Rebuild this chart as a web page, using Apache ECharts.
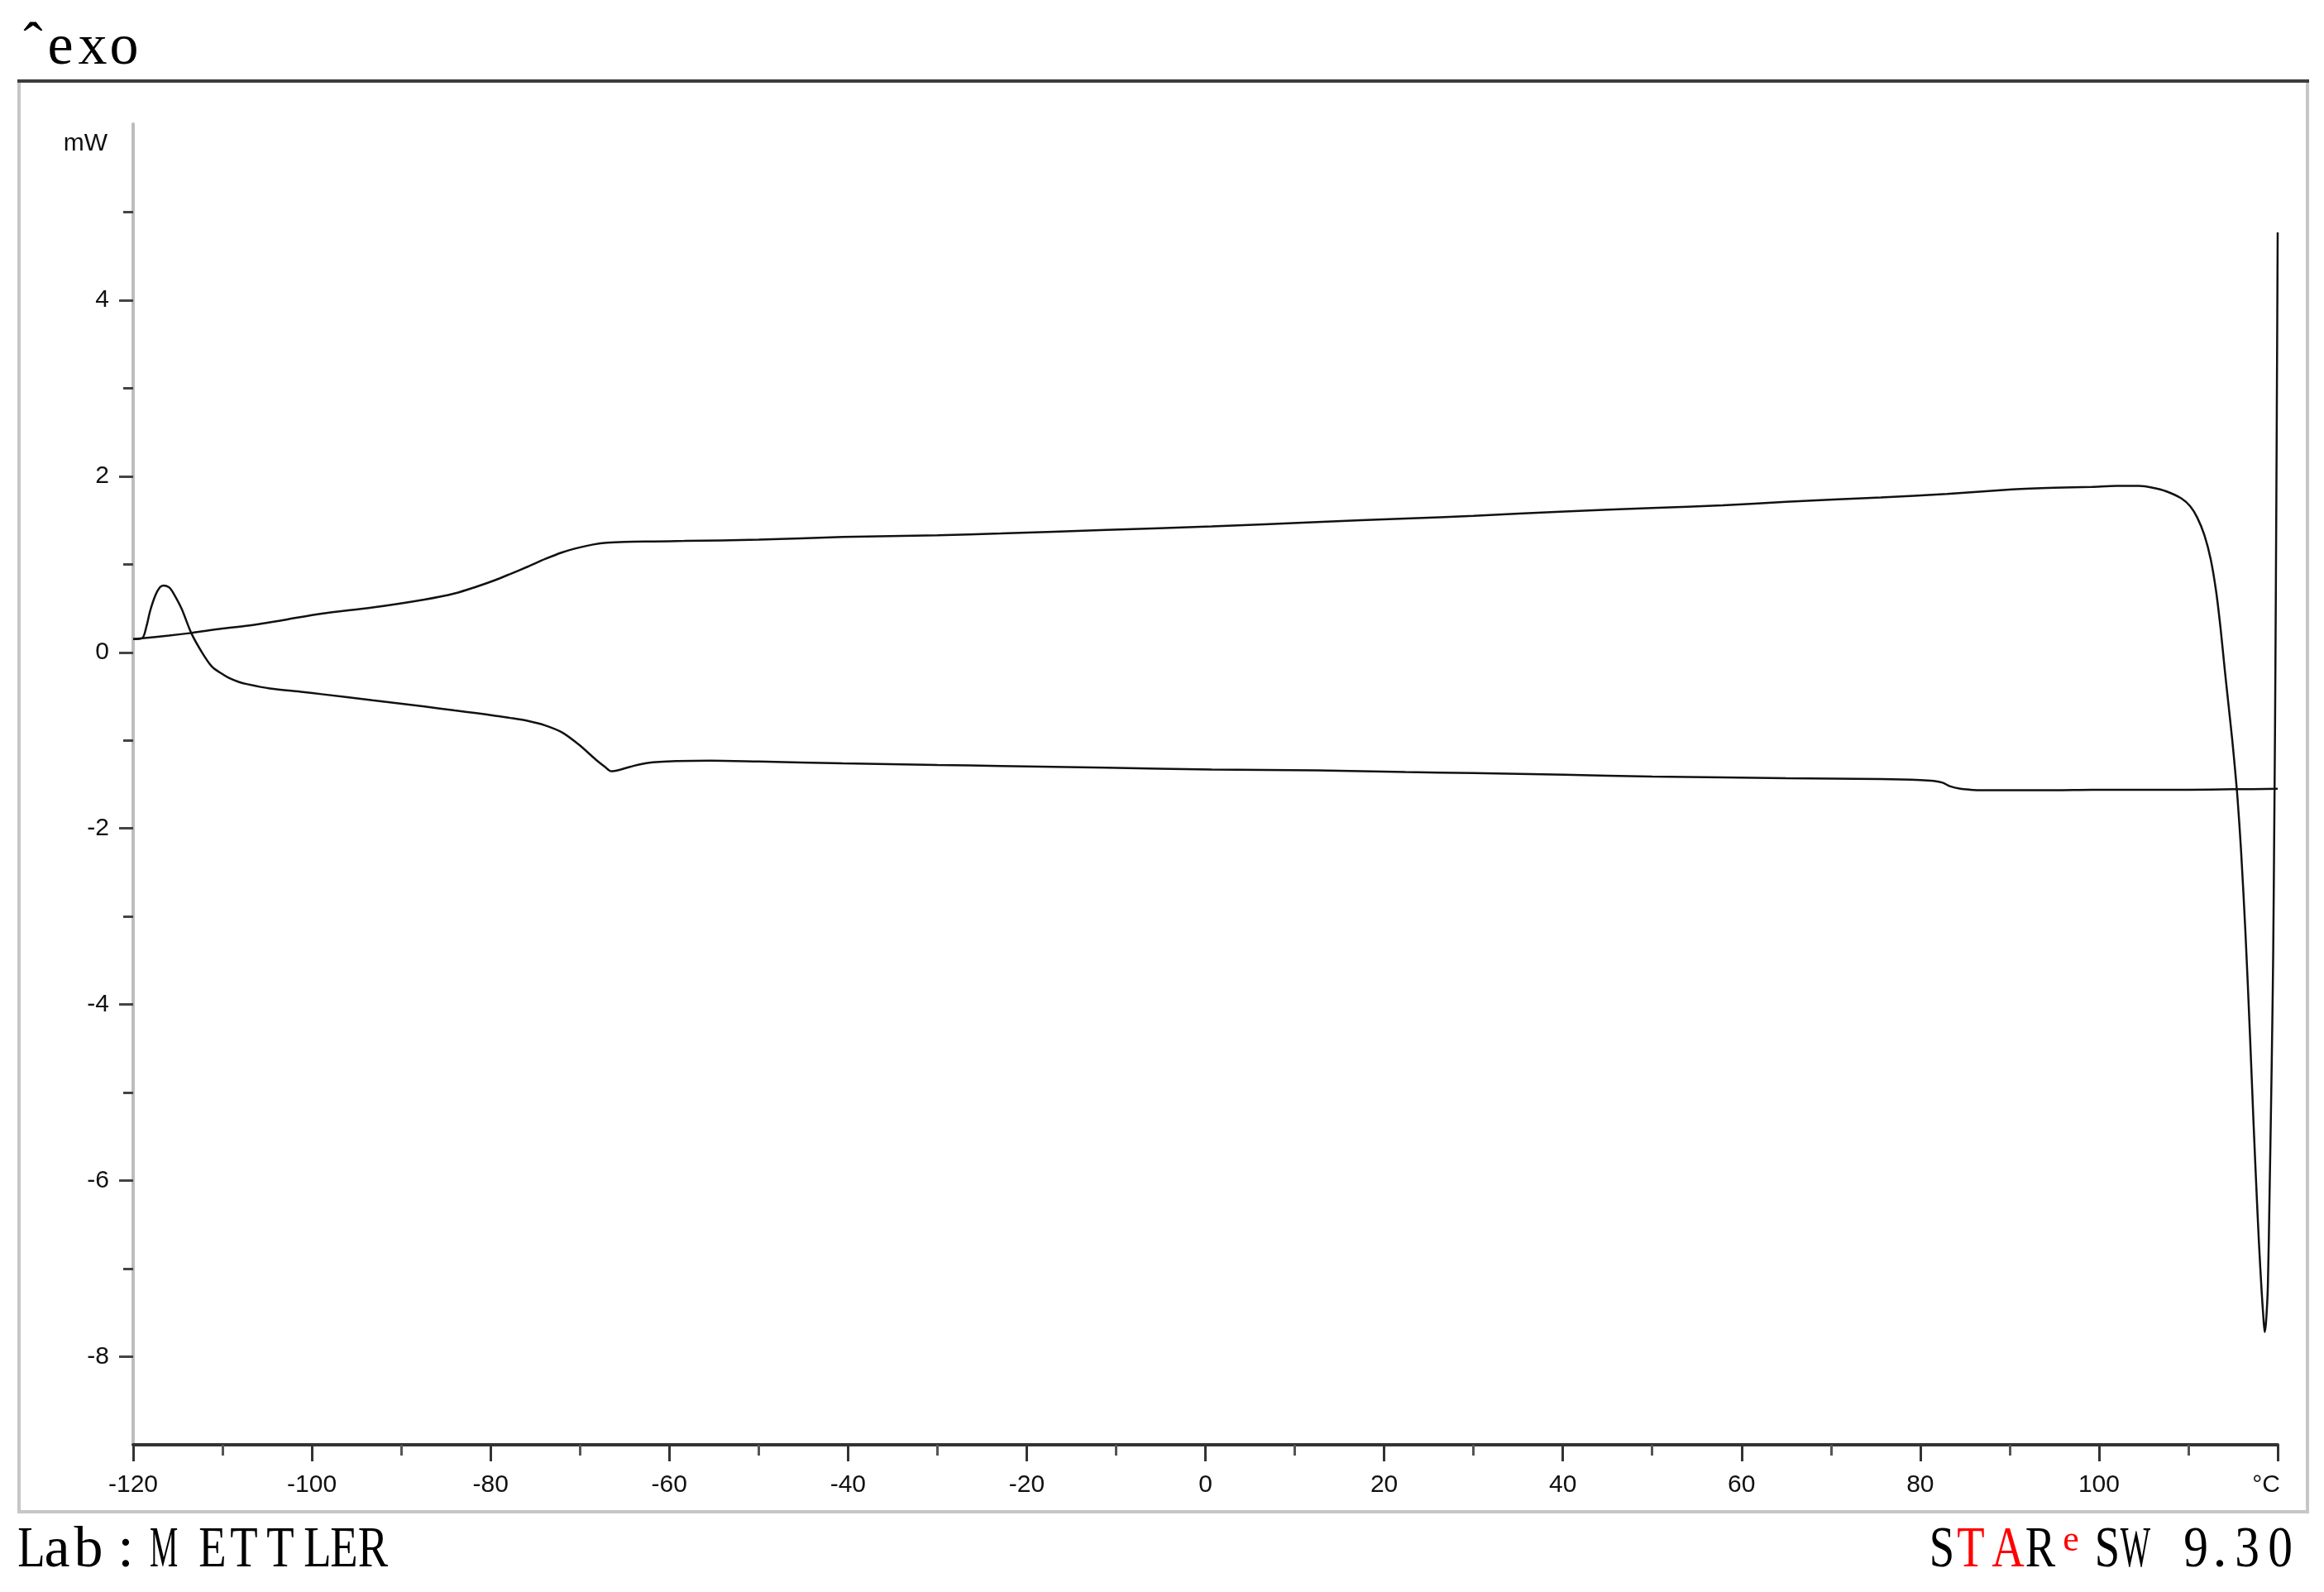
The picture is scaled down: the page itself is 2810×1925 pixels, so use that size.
<!DOCTYPE html>
<html>
<head>
<meta charset="utf-8">
<script src="https://cdn.jsdelivr.net/npm/echarts@6/dist/echarts.min.js"></script>
<style>
html,body{margin:0;padding:0;background:#fff;}
#main{width:2810px;height:1925px;}
</style>
</head>
<body>
<div id="main"></div>
<script>
// ---------------- data ----------------
const xTickValues = [-120, -100, -80, -60, -40, -20, 0, 20, 40, 60, 80, 100, 120];
const yTickValues = [-8, -6, -4, -2, 0, 2, 4];
const yMinorTickValues = [-7, -5, -3, -1, 1, 3, 5];
const xUnit = '°C';
const yUnit = 'mW';

// upper branch (baseline rising, melting dip near 118 °C and final spike)
const upperTemp = [-120, -119, -116, -113.5, -110, -106.6, -103, -98.9, -93.2, -87.4, -84, -81.6, -79.5, -77.8, -75.8, -73.9, -72, -70.1, -68.5, -67, -65, -61.7, -58.3, -50, -40.6, -30, -22.9, -11.1, 0.7, 12.5, 22.4, 30, 40.2, 50, 57.9, 65, 75.6, 83, 90.3, 95, 99.2, 102, 104.5, 106, 107.5, 109.2, 110.2, 111, 111.8, 112.5, 113.1, 113.6, 114.1, 114.5, 114.9, 115.2, 115.5, 115.9, 116.4, 116.9, 117.3, 117.6, 117.9, 118.2, 118.4, 118.55, 118.7, 118.9, 119.1, 119.25, 119.4, 119.5, 119.6, 119.7, 119.8, 119.9, 120];
const upperHeatFlow = [0.15, 0.16, 0.19, 0.22, 0.27, 0.31, 0.37, 0.44, 0.51, 0.60, 0.67, 0.745, 0.82, 0.89, 0.975, 1.06, 1.135, 1.19, 1.225, 1.245, 1.255, 1.26, 1.265, 1.28, 1.31, 1.33, 1.35, 1.39, 1.43, 1.48, 1.52, 1.55, 1.60, 1.64, 1.67, 1.71, 1.76, 1.80, 1.85, 1.87, 1.88, 1.89, 1.89, 1.87, 1.83, 1.75, 1.66, 1.53, 1.33, 1.06, 0.70, 0.28, -0.22, -0.60, -0.98, -1.30, -1.65, -2.25, -3.20, -4.35, -5.35, -6.05, -6.70, -7.25, -7.55, -7.72, -7.60, -7.20, -6.10, -5.20, -4.20, -3.40, -2.20, -0.90, 0.80, 2.70, 4.77];

// lower branch (start-up hook near -116 °C, glass transition, small step near 84 °C)
const lowerTemp = [-120, -119, -118.5, -118.1, -117.5, -117, -116.6, -116, -115.6, -114.6, -113.5, -112.3, -111.2, -110.2, -109.3, -108.2, -107.3, -104.7, -101, -98.9, -93.2, -87.4, -84, -81.6, -79.5, -77.8, -75.8, -73.9, -72, -70.1, -68.2, -67.2, -66.5, -65.6, -64.4, -62.4, -59, -55.4, -50, -40.6, -30, -22.9, -11.1, 0.7, 12.5, 22.4, 30, 40.2, 50, 57.9, 65, 75.6, 80, 81.5, 82.5, 83.3, 84.5, 85.6, 87, 95, 99.2, 105, 110, 115, 120];
const lowerHeatFlow = [0.15, 0.16, 0.30, 0.47, 0.65, 0.74, 0.76, 0.74, 0.69, 0.50, 0.22, 0.00, -0.16, -0.235, -0.29, -0.335, -0.36, -0.41, -0.45, -0.475, -0.545, -0.615, -0.66, -0.69, -0.72, -0.745, -0.78, -0.83, -0.91, -1.05, -1.22, -1.30, -1.35, -1.335, -1.30, -1.255, -1.235, -1.23, -1.24, -1.26, -1.28, -1.29, -1.31, -1.33, -1.34, -1.36, -1.37, -1.39, -1.41, -1.42, -1.43, -1.44, -1.45, -1.46, -1.48, -1.52, -1.55, -1.56, -1.565, -1.565, -1.56, -1.56, -1.56, -1.555, -1.55];

const headerChars = ['e', 'x', 'o'];
const caretText = 'ˆ';
const labText = 'Lab:METTLER';
const starText = 'STARSW9.30';
const starSup = 'e';

// ---------------- layout ----------------
const GRID = {left: 161, right: 56, top: 150, bottom: 178};
const serif = '"Liberation Serif", "Times New Roman", serif';
const sans = '"Liberation Sans", Arial, sans-serif';

function charScale(ch) {
  if (ch === 'M' || ch === 'W') return 0.55;
  if (/[A-Z]/.test(ch)) return 0.78;
  if (/[0-9]/.test(ch)) return 0.85;
  return 1;
}
function glyph(ch, cx, size, color, baseline) {
  return {
    type: 'text',
    x: cx,
    y: baseline - 0.305 * size,
    scaleX: charScale(ch),
    silent: true,
    style: {text: ch, font: size + 'px ' + serif, fill: color, align: 'center', verticalAlign: 'middle'}
  };
}

// character centres for header / footer text
const headerCenters = [73, 112, 150];
const labCenters = [38, 69, 107, 152, 198, 257, 295, 339, 384, 416, 451];
const starCenters = [2348, 2383, 2428, 2467, 2548, 2582, 2655, 2684, 2717, 2757];
const starColors = ['#000','#f00','#f00','#000','#000','#000','#000','#000','#000','#000'];

const graphics = [];
// frame
graphics.push({type:'rect', z:-10, silent:true, shape:{x:23, y:98, width:2767, height:1730}, style:{fill:'none', stroke:'#c6c6c6', lineWidth:4}});
graphics.push({type:'line', z:-9, silent:true, shape:{x1:21, y1:98, x2:2792, y2:98}, style:{stroke:'#3c3c3c', lineWidth:4}});
// header
graphics.push({type:'text', silent:true, x:40, y:78 - 0.305*70, style:{text:caretText, font:'70px ' + serif, fill:'#000', align:'center', verticalAlign:'middle'}});
headerChars.forEach((ch, i) => graphics.push(glyph(ch, headerCenters[i], 70, '#000', 80)));
// units
graphics.push({type:'text', silent:true, x:130, y:174, style:{text:yUnit, font:'30px ' + sans, fill:'#111', align:'right', verticalAlign:'middle'}});
// footer
labText.split('').forEach((ch, i) => graphics.push(glyph(ch, labCenters[i], 70, '#000', 1897)));
starText.split('').forEach((ch, i) => graphics.push(glyph(ch, starCenters[i], 70, starColors[i], 1897)));
graphics.push(glyph(starSup, 2504, 44, '#f00', 1877));

const upperData = upperTemp.map((t, i) => [t, upperHeatFlow[i]]);
const lowerData = lowerTemp.map((t, i) => [t, lowerHeatFlow[i]]);

const chart = echarts.init(document.getElementById('main'), null, {renderer: 'canvas'});
chart.setOption({
  animation: false,
  backgroundColor: '#fff',
  grid: {left: GRID.left, right: GRID.right, top: GRID.top, bottom: GRID.bottom, containLabel: false},
  xAxis: {
    type: 'value', min: -120, max: 120, interval: 20,
    axisLine: {show: true, onZero: false, lineStyle: {color: '#333', width: 4}},
    axisTick: {show: true, length: 20, lineStyle: {color: '#333', width: 3}},
    minorTick: {show: true, splitNumber: 2, length: 13, lineStyle: {color: '#555', width: 3}},
    splitLine: {show: false},
    axisLabel: {
      margin: 34, color: '#111', fontFamily: sans, fontSize: 30,
      formatter: v => (v === 120 ? '{u|' + xUnit + '}' : String(v)),
      rich: {u: {fontFamily: sans, fontSize: 30, color: '#111', padding: [0, 28, 0, 0]}}
    }
  },
  yAxis: [{
    type: 'value', min: -9, max: 6,
    axisLine: {show: true, onZero: false, lineStyle: {color: '#bdbdbd', width: 4}},
    axisTick: {show: true, length: 17, customValues: yTickValues, lineStyle: {color: '#444', width: 3}},
    axisLabel: {show: true, margin: 29, customValues: yTickValues, color: '#111', fontFamily: sans, fontSize: 30},
    splitLine: {show: false}
  }, {
    type: 'value', min: -9, max: 6, position: 'left',
    axisLine: {show: false, onZero: false},
    axisTick: {show: true, length: 12, customValues: yMinorTickValues, lineStyle: {color: '#444', width: 3}},
    axisLabel: {show: false},
    splitLine: {show: false}
  }],
  series: [{
    type: 'line', name: 'upper', data: upperData, yAxisIndex: 0,
    showSymbol: false, smooth: 0.3,
    lineStyle: {color: '#111', width: 2.5}
  }, {
    type: 'line', name: 'lower', data: lowerData, yAxisIndex: 0,
    showSymbol: false, smooth: 0.3,
    lineStyle: {color: '#111', width: 2.5}
  }],
  graphic: {elements: graphics}
});
</script>
</body>
</html>
